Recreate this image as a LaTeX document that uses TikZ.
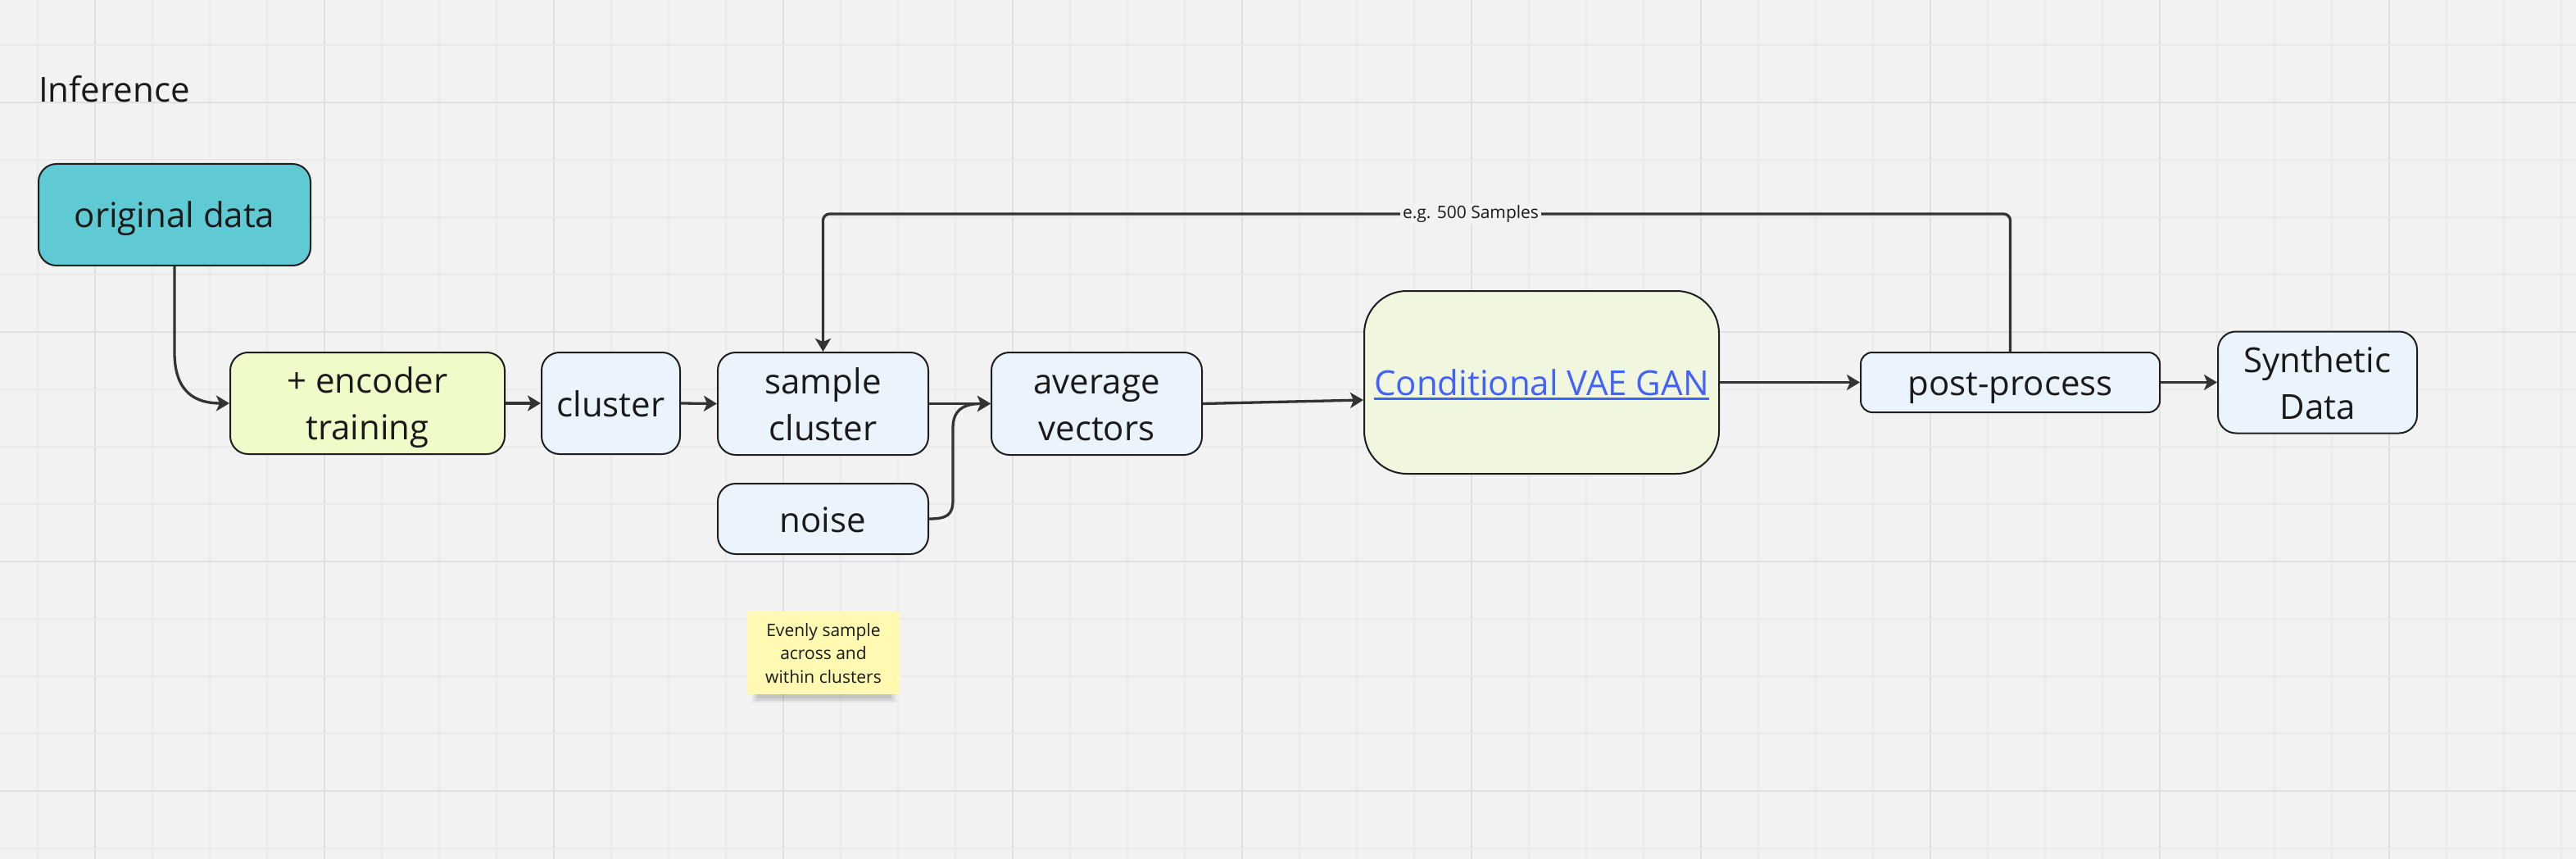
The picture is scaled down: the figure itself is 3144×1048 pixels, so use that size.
\documentclass[tikz,border=0pt]{standalone}
\usepackage{fontspec}
\setmainfont{Open Sans}
\usetikzlibrary{arrows.meta}
\definecolor{bgc}{HTML}{F2F2F2}
\definecolor{gridminor}{HTML}{EAEAEA}
\definecolor{gridmajor}{HTML}{E0E0E0}
\definecolor{bord}{HTML}{1E1E1E}
\definecolor{conncol}{HTML}{333333}
\definecolor{txtc}{HTML}{1A1A1A}
\definecolor{teal}{HTML}{5FCAD3}
\definecolor{lime}{HTML}{EFFCCA}
\definecolor{lblue}{HTML}{EBF4FD}
\definecolor{pale}{HTML}{F1F6DE}
\definecolor{sticky}{HTML}{FFF9B1}
\definecolor{linkblue}{HTML}{4262FF}
\newcommand\myul[1]{\setbox0\hbox{#1}\rlap{\rule[-5pt]{\wd0}{3pt}}\box0}
\tikzset{
  box/.style={draw=bord, line width=2pt, rounded corners=22pt, align=center,
    font=\fontsize{42}{57}\selectfont, inner sep=0pt, text=txtc,
    text height=32pt, text depth=0pt},
  twoline/.style={text height=89pt},
  conn/.style={draw=conncol, line width=3.3pt,
    -{Stealth[length=16pt,width=19pt,inset=4pt]}},
}
\begin{document}
\begin{tikzpicture}[x=1pt,y=-1pt]
\useasboundingbox (0,0) rectangle (3144,1048);
\fill[bgc] (0,0) rectangle (3144,1048);
% grid
\foreach \k in {0,...,44} {
  \pgfmathsetmacro{\xx}{46+70*\k}
  \pgfmathtruncatemacro{\m}{mod(\k,4)}
  \ifnum\m=1
    \draw[gridmajor, line width=2pt] (\xx,0) -- (\xx,1048);
  \else
    \draw[gridminor, line width=1.5pt] (\xx,0) -- (\xx,1048);
  \fi
}
\foreach \k in {0,...,14} {
  \pgfmathsetmacro{\yy}{55+70*\k}
  \pgfmathtruncatemacro{\m}{mod(\k,4)}
  \ifnum\m=1
    \draw[gridmajor, line width=2pt] (0,\yy) -- (3144,\yy);
  \else
    \draw[gridminor, line width=1.5pt] (0,\yy) -- (3144,\yy);
  \fi
}

% title
\node[anchor=base west, inner sep=0pt, text=txtc, font=\fontsize{42}{50}\selectfont] (title) at (47,125) {Inference};

% nodes
\node[box, fill=teal, minimum width=332pt, minimum height=124pt] (orig) at (213,262) {original data};
\node[box, twoline, fill=lime, minimum width=335pt, minimum height=124pt] (enc) at (448.5,492) {+ encoder\\training};
\node[box, fill=lblue, minimum width=169pt, minimum height=124pt] (clus) at (745.5,492) {cluster};
\node[box, twoline, fill=lblue, minimum width=257pt, minimum height=125pt] (samp) at (1004.5,492.5) {sample\\cluster};
\node[box, fill=lblue, minimum width=257pt, minimum height=86pt] (noise) at (1004.5,633) {noise};
\node[box, twoline, fill=lblue, minimum width=257pt, minimum height=125pt] (avg) at (1338.5,492.5) {average\\vectors};
\node[box, fill=pale, rounded corners=52pt, minimum width=433pt, minimum height=223pt, text=linkblue] (cvg) at (1881.5,466.5) {\myul{Conditional VAE GAN}};
\node[box, fill=lblue, rounded corners=14pt, minimum width=365pt, minimum height=73pt] (post) at (2453.5,466.5) {post-process};
\node[box, twoline, fill=lblue, minimum width=243pt, minimum height=124pt] (synth) at (2828.5,466.5) {Synthetic\\Data};

% sticky note shadow
\foreach \i/\o in {0/0.05,3/0.07,6/0.08} {
  \fill[black, opacity=\o] (918+\i,808+\i) rectangle (1094-\i,857-\i*0.8);
}
\node[fill=sticky, minimum width=186pt, minimum height=101pt, inner sep=0pt, align=center,
  text=txtc, font=\fontsize{21}{28.5}\selectfont, text height=73pt, text depth=0pt] (note) at (1005,796.5) {Evenly sample\\across and\\within clusters};

% connectors
\draw[conn] (orig.south) -- ++(0,105) .. controls +(0,50) and +(-40,0) .. (enc.west);
\draw[conn] (enc.east) -- (clus.west);
\draw[conn] (clus.east) -- (samp.west);
\draw[conn] (samp.east) -- (avg.west);
\draw[conn] (noise.east) .. controls +(22,0) and +(0,18) .. (1163,610) -- (1163,522) .. controls +(0,-24) and +(-30,0) .. (avg.west);
\draw[conn] (avg.east) -- ([yshift=-21.5pt]cvg.west);
\draw[conn] (cvg.east) -- (post.west);
\draw[conn] (post.east) -- (synth.west);
\coordinate (top) at (0,261);
\draw[conn, rounded corners=8pt] (post.north) -- (post.north |- top) -| (samp.north);
\node[fill=bgc, inner xsep=3pt, inner ysep=2pt, text=txtc, font=\fontsize{21}{24}\selectfont] (lbl) at (1795,261) {e.g. 500 Samples};
\end{tikzpicture}
\end{document}
